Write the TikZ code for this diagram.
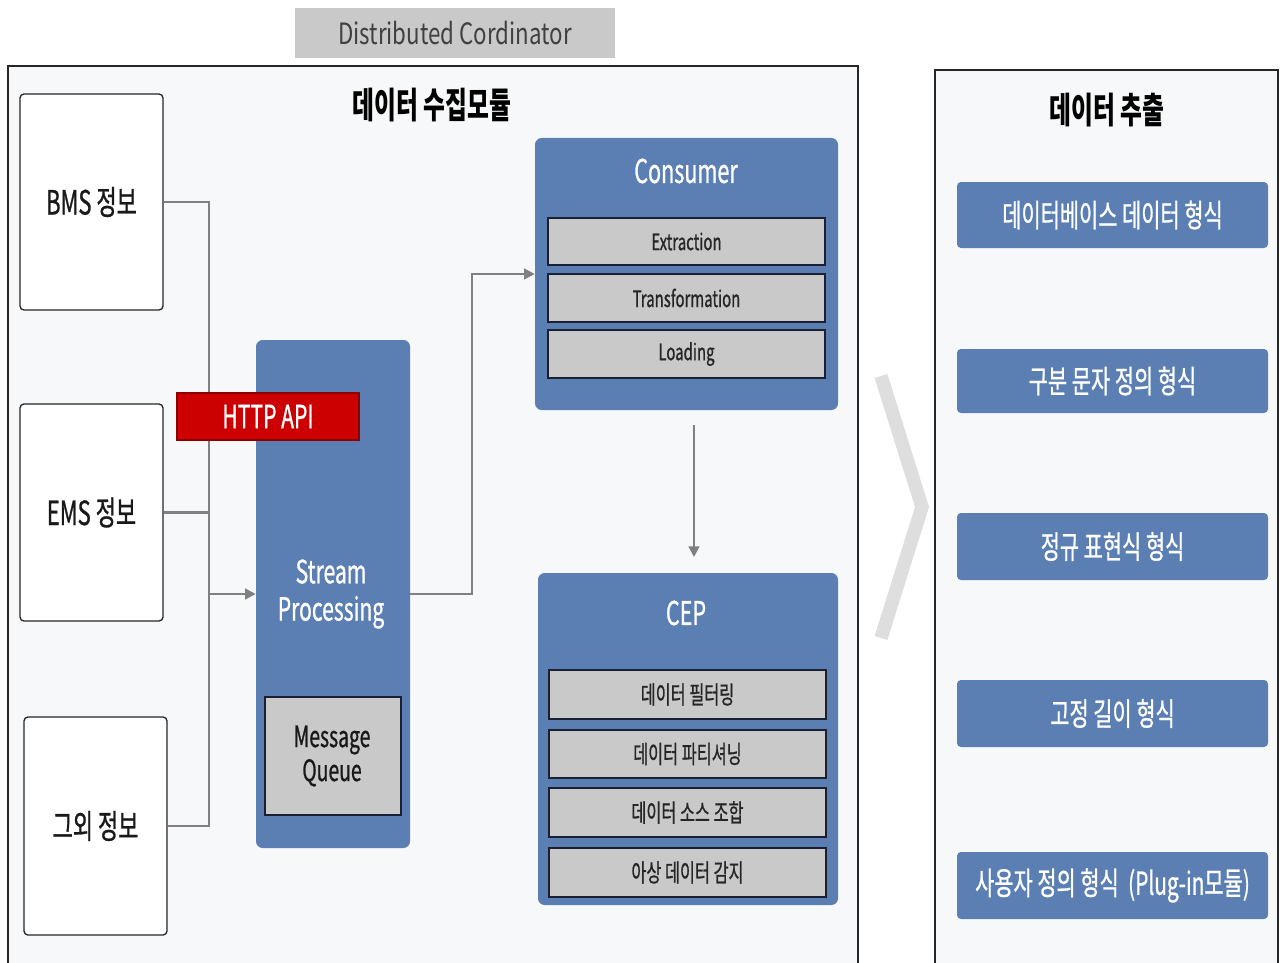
\documentclass[tikz,border=0pt]{standalone}
\usepackage{fontspec}
\setmainfont{Noto Sans CJK KR}[FakeStretch=0.66]
\newfontfamily\medf{Noto Sans CJK KR}[FakeStretch=0.66, FakeBold=0.8]
\newfontfamily\dcf{Noto Sans CJK KR}[FakeStretch=0.76]
\usetikzlibrary{fit,arrows.meta}
\definecolor{panelbg}{HTML}{F7F8F9}
\definecolor{blueA}{HTML}{5B7FB2}
\definecolor{grayA}{HTML}{C9C9C9}
\definecolor{navyline}{HTML}{1A1F33}
\definecolor{lineGray}{HTML}{808080}
\definecolor{redA}{HTML}{CC0000}
\newcommand{\fsz}[2]{\fontsize{#1}{#2}\selectfont}
\tikzset{
  panel/.style={draw=black!85, line width=1.2pt, fill=panelbg, inner sep=0pt},
  srcbox/.style={draw=black!85, line width=1pt, fill=white, rounded corners=3pt, inner sep=0pt},
  srclbl/.style={font=\medf\fsz{25pt}{30pt}, text=black!90},
  bluebox/.style={fill=blueA, rounded corners=5pt, inner sep=0pt},
  itembox/.style={fill=grayA, draw=navyline, line width=1.1pt, inner sep=0pt},
  consl/.style={font=\medf\fsz{17pt}{20pt}, text=black!85},
  cepl/.style={font=\medf\fsz{18.5pt}{22pt}, text=black!85},
  fmtbox/.style={fill=blueA, rounded corners=3pt, inner sep=0pt},
  fmtl/.style={font=\medf\fsz{23.7pt}{28pt}, text=white},
  conn/.style={draw=lineGray, line width=1.8pt},
  arr/.style={conn, -{Triangle[length=8pt,width=8pt]}},
  titletext/.style={font=\bfseries\fsz{27pt}{32pt}},
  wtitle/.style={text=white, font=\medf\fsz{24.5pt}{29pt}}
}
\begin{document}
\begin{tikzpicture}[x=0.75pt,y=-0.75pt]
\useasboundingbox[fill=white] (0,0) rectangle (1284,963);
% top label
\node[fit={(295,8) (615,58)}, inner sep=0pt, fill=grayA,
      label={[text=black!75, font=\dcf\fsz{22pt}{26pt}]center:Distributed Cordinator}] (dc) {};
% panels
\node[panel, fit={(8,66) (858,985)}] (main) {};
\node[panel, fit={(935,70) (1278,985)}] (extp) {};
\node[titletext] (t1) at (432,105) {데이터 수집모듈};
\node[titletext] (t2) at (1107,110) {데이터 추출};
% chevron
\coordinate (cv1) at (881,376);
\coordinate (cv2) at (922,507);
\coordinate (cv3) at (881,638);
\draw[black!13, line width=10pt, line join=miter] (cv1) -- (cv2) -- (cv3);
% sources
\node[srcbox, fit={(20,94) (163,310)}, label={[srclbl]center:BMS 정보}] (bms) {};
\node[srcbox, fit={(20,404) (163,621)}, label={[srclbl]center:EMS 정보}] (ems) {};
\node[srcbox, fit={(24,717) (167,935)}, label={[srclbl]center:그외 정보}] (oth) {};
% stream processing
\node[bluebox, fit={(256,340) (410,848)}] (sp) {};
\node[text=white, font=\medf\fsz{24pt}{28pt}, align=center] (spt) at (331,594) {Stream\\Processing};
\node[itembox, fit={(265,697) (401,815)}] (mq) {};
\node[text=black!90, font=\medf\fsz{22pt}{25.5pt}, align=center] (mqt) at (332,756) {Message\\Queue};
% bus connectors
\coordinate (b1) at (209,202);
\coordinate (b2) at (209,594);
\coordinate (b3) at (209,826);
\draw[conn] (bms.east) -- (b1) -- (b3) -- (oth.east);
\draw[conn] (ems.east) -- (ems.east -| b1);
\draw[arr] (b2) -- (sp.west);
% HTTP API
\node[fit={(177,393) (359,440)}, inner sep=0pt, fill=redA, draw=red!55!black, line width=0.8pt,
      label={[text=white, font=\medf\fsz{24pt}{28pt}]center:HTTP API}] (http) {};
% consumer
\node[bluebox, fit={(535,138) (838,410)}] (cons) {};
\node[wtitle] (ct) at (686,171) {Consumer};
\node[itembox, fit={(548,218) (825,265)}, label={[consl]center:Extraction}] (ex) {};
\node[itembox, fit={(548,274) (825,322)}, label={[consl]center:Transformation}] (tr) {};
\node[itembox, fit={(548,330) (825,378)}, label={[consl]center:Loading}] (ld) {};
\coordinate (jc) at (472,274);
\draw[arr] (sp.east) -| (jc) -- (cons.west);
% arrow to CEP
\coordinate (a1) at (694,425);
\coordinate (a2) at (694,557);
\draw[arr] (a1) -- (a2);
% CEP
\node[bluebox, fit={(538,573) (838,905)}] (cep) {};
\node[wtitle] (cept) at (686,613) {CEP};
\node[itembox, fit={(549,670) (826,719)}, label={[cepl]center:데이터 필터링}] (c1) {};
\node[itembox, fit={(549,730) (826,778)}, label={[cepl]center:데이터 파티셔닝}] (c2) {};
\node[itembox, fit={(549,788) (826,837)}, label={[cepl]center:데이터 소스 조합}] (c3) {};
\node[itembox, fit={(549,848) (826,897)}, label={[cepl]center:아상 데이터 감지}] (c4) {};
% formats
\node[fmtbox, fit={(957,182) (1268,248)}, label={[fmtl]center:데이터베이스 데이터 형식}] (f1) {};
\node[fmtbox, fit={(957,349) (1268,413)}, label={[fmtl]center:구분 문자 정의 형식}] (f2) {};
\node[fmtbox, fit={(957,513) (1268,580)}, label={[fmtl]center:정규 표현식 형식}] (f3) {};
\node[fmtbox, fit={(957,680) (1268,747)}, label={[fmtl]center:고정 길이 형식}] (f4) {};
\node[fmtbox, fit={(957,852) (1268,919)}, label={[fmtl]center:사용자 정의 형식\ \ (Plug-in모듈)}] (f5) {};
\end{tikzpicture}
\end{document}
